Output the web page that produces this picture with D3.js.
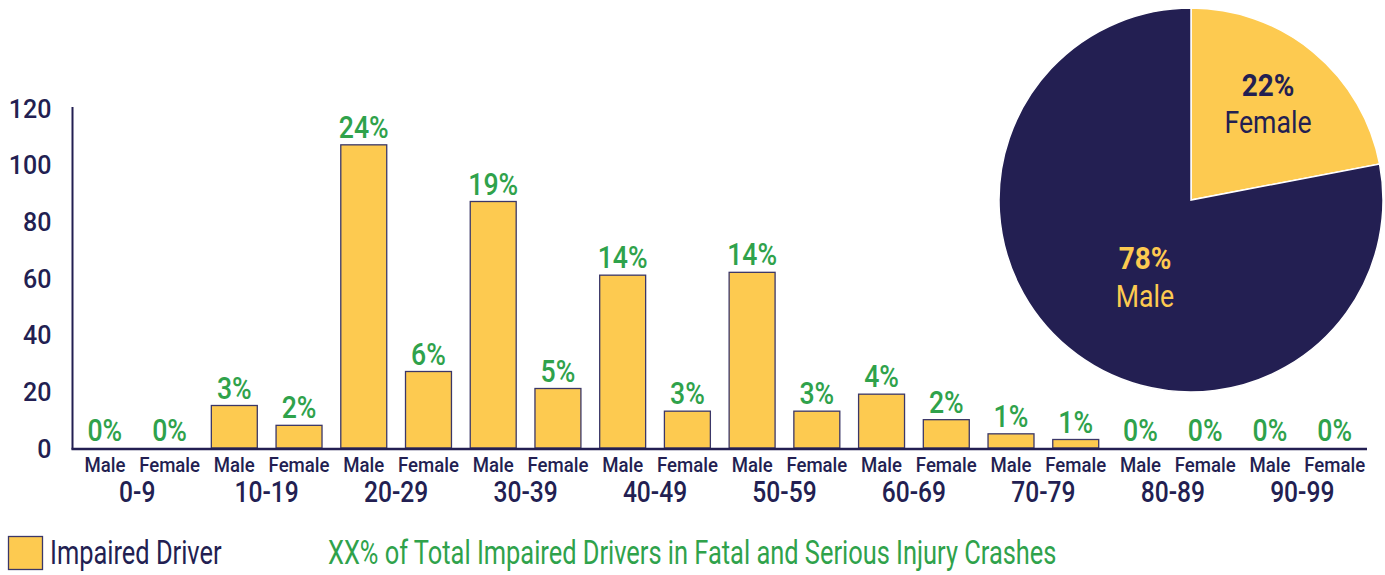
<!DOCTYPE html>
<html>
<head>
<meta charset="utf-8">
<script src="https://cdn.jsdelivr.net/npm/d3@7"></script>
<style>
  html, body { margin: 0; padding: 0; background: #ffffff; }
  svg { display: block; }
  text { font-family: Roboto, "Liberation Sans", sans-serif; }
</style>
</head>
<body>
<svg id="chart" width="1385" height="575"></svg>
<script>
// ---- data ----
const ageGroups = ["0-9", "10-19", "20-29", "30-39", "40-49", "50-59", "60-69", "70-79", "80-89", "90-99"];
const genders = ["Male", "Female"];
const maleValues = [0, 15, 107, 87, 61, 62, 19, 5, 0, 0];
const femaleValues = [0, 8, 27, 21, 13, 13, 10, 3, 0, 0];
const malePctLabels = ["0%", "3%", "24%", "19%", "14%", "14%", "4%", "1%", "0%", "0%"];
const femalePctLabels = ["0%", "2%", "6%", "5%", "3%", "3%", "2%", "1%", "0%", "0%"];
const yTicks = [0, 20, 40, 60, 80, 100, 120];
const pieCategories = ["Female", "Male"];
const pieValues = [22, 78];
const pieLabels = ["22%", "78%"];
const legendBarLabel = "Impaired Driver";
const legendPctLabel = "XX% of Total Impaired Drivers in Fatal and Serious Injury Crashes";

// ---- styles ----
const NAVY = "#231f52";
const YELLOW = "#fdca50";
const GREEN = "#2fa24b";

const svg = d3.select("#chart");

// build flat rows
const rows = [];
ageGroups.forEach((g, i) => {
  rows.push({ key: g + "|Male", group: g, gender: genders[0], value: maleValues[i], pct: malePctLabels[i] });
  rows.push({ key: g + "|Female", group: g, gender: genders[1], value: femaleValues[i], pct: femalePctLabels[i] });
});

const x = d3.scaleBand()
  .domain(rows.map(d => d.key))
  .range([72.5, 1367])
  .paddingInner(0.29)
  .paddingOuter(0.145);

const y = d3.scaleLinear().domain([0, 120]).range([448, 108]);

// helper for condensed-looking text
function ctext(parent, tx, ty, str, opts) {
  const sx = opts.sx || 0.86;
  return parent.append("text")
    .attr("transform", `translate(${tx},${ty}) scale(${sx},1)`)
    .attr("text-anchor", opts.anchor || "middle")
    .attr("font-size", opts.size)
    .attr("font-weight", opts.weight || 400)
    .attr("fill", opts.fill)
    .text(str);
}

// ---- pie ----
const pieG = svg.append("g").attr("transform", "translate(1191,200)");
const pie = d3.pie().sort(null).value(d => d.v);
const arcs = pie(pieCategories.map((c, i) => ({ c, v: pieValues[i], label: pieLabels[i] })));
const arc = d3.arc().innerRadius(0).outerRadius(192);
pieG.selectAll("path.slice")
  .data(arcs)
  .join("path")
  .attr("class", "slice")
  .attr("d", arc)
  .attr("fill", d => d.data.c === "Female" ? YELLOW : NAVY)
  .attr("stroke", "#ffffff")
  .attr("stroke-width", 1.5);

// pie labels
arcs.forEach(a => {
  const isF = a.data.c === "Female";
  const cx = isF ? 1268 - 1191 : 1145 - 1191;
  const pctY = isF ? 96 - 200 : 269 - 200;
  const nameY = isF ? 133 - 200 : 307 - 200;
  ctext(pieG, cx, pctY, a.data.label, { size: 31, weight: 700, fill: isF ? NAVY : YELLOW, sx: 0.9 });
  ctext(pieG, cx, nameY, a.data.c, { size: 31, weight: 400, fill: isF ? NAVY : YELLOW, sx: 0.86 });
});

// ---- bars ----
svg.append("g").selectAll("rect")
  .data(rows.filter(d => d.value > 0))
  .join("rect")
  .attr("x", d => x(d.key))
  .attr("y", d => y(d.value))
  .attr("width", x.bandwidth())
  .attr("height", d => y(0) - y(d.value))
  .attr("fill", YELLOW)
  .attr("stroke", "#3b3768")
  .attr("stroke-width", 1.3);

// percentage labels
const pctG = svg.append("g");
rows.forEach(d => {
  ctext(pctG, x(d.key) + x.bandwidth() / 2, y(d.value) - 7, d.pct, { size: 31, weight: 500, fill: GREEN, sx: 0.86 });
});

// ---- axes ----
const yAxis = d3.axisLeft(y).tickValues(yTicks).tickSize(0).tickPadding(21).tickFormat(d3.format("d"));
const yG = svg.append("g").attr("transform", "translate(72.5,0)").call(yAxis);
yG.select(".domain").remove();
yG.selectAll("text")
  .attr("font-size", 25)
  .attr("font-weight", 500)
  .attr("fill", NAVY)
  .attr("dy", "0.36em");

// axis lines
svg.append("line").attr("x1", 72.5).attr("x2", 72.5).attr("y1", 107).attr("y2", 449.5)
  .attr("stroke", NAVY).attr("stroke-width", 2);
svg.append("line").attr("x1", 71.5).attr("x2", 1367).attr("y1", 449).attr("y2", 449)
  .attr("stroke", NAVY).attr("stroke-width", 2.6);

// x labels
const xl = svg.append("g");
rows.forEach(d => {
  ctext(xl, x(d.key) + x.bandwidth() / 2, 472, d.gender, { size: 20, weight: 500, fill: NAVY, sx: 0.93 });
});
ageGroups.forEach(g => {
  const cx = (x(g + "|Male") + x(g + "|Female") + x.bandwidth()) / 2;
  ctext(xl, cx, 502, g, { size: 30, weight: 500, fill: NAVY, sx: 0.82 });
});

// ---- legend ----
svg.append("rect").attr("x", 8.5).attr("y", 536.5).attr("width", 34).attr("height", 33)
  .attr("fill", YELLOW).attr("stroke", "#3b3768").attr("stroke-width", 1.3);
ctext(svg, 50, 564, legendBarLabel, { size: 33, weight: 400, fill: NAVY, anchor: "start", sx: 0.77 });
ctext(svg, 328, 564, legendPctLabel, { size: 33, weight: 400, fill: GREEN, anchor: "start", sx: 0.77 });
</script>
</body>
</html>
